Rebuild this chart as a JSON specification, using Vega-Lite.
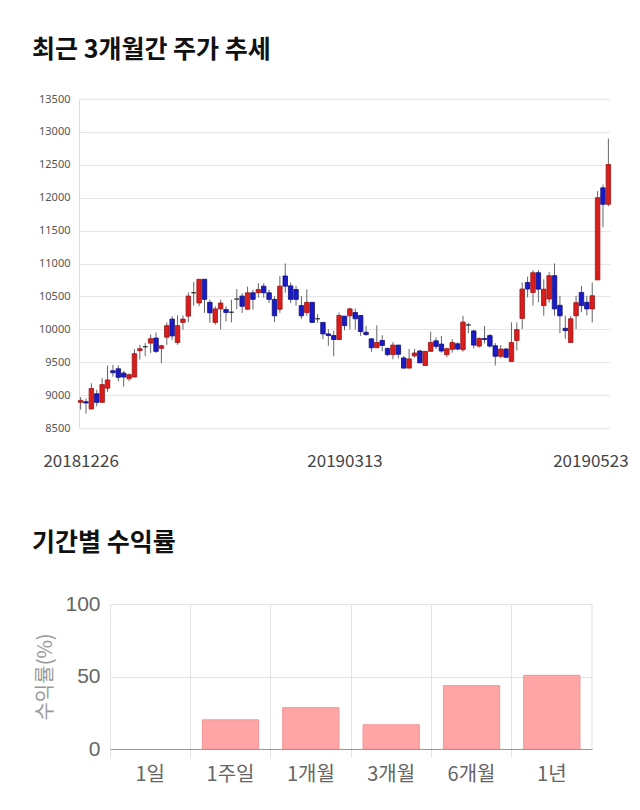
{
  "$schema": "https://vega.github.io/schema/vega-lite/v6.json",
  "padding": {"left": 32, "top": 38, "right": 5, "bottom": 20},
  "background": "white",
  "config": {
    "view": {"stroke": null},
    "font": "Noto Sans CJK KR",
    "title": {"anchor": "start", "frame": "group", "dx": -47, "fontSize": 25, "fontWeight": "bold", "color": "#111", "font": "Noto Sans CJK KR"}
  },
  "spacing": 62,
  "vconcat": [
    {
      "title": {"text": "최근 3개월간 주가 추세", "offset": 30},
      "width": 531,
      "height": 329,
      "data": {"values": [
        {"d":"20181226","o":8890,"h":8970,"l":8780,"c":8920},
        {"d":"20181227","o":8900,"h":8950,"l":8720,"c":8880},
        {"d":"20181228","o":8790,"h":9180,"l":8780,"c":9100},
        {"d":"20190102","o":9020,"h":9080,"l":8830,"c":8890},
        {"d":"20190103","o":8890,"h":9260,"l":8880,"c":9160},
        {"d":"20190104","o":9105,"h":9450,"l":9050,"c":9230},
        {"d":"20190107","o":9370,"h":9460,"l":9280,"c":9340},
        {"d":"20190108","o":9400,"h":9450,"l":9210,"c":9270},
        {"d":"20190109","o":9335,"h":9370,"l":9130,"c":9275},
        {"d":"20190110","o":9250,"h":9330,"l":9210,"c":9310},
        {"d":"20190111","o":9275,"h":9700,"l":9270,"c":9630},
        {"d":"20190114","o":9675,"h":9765,"l":9540,"c":9705},
        {"d":"20190115","o":9735,"h":9790,"l":9590,"c":9735},
        {"d":"20190116","o":9790,"h":9920,"l":9640,"c":9857},
        {"d":"20190117","o":9867,"h":9950,"l":9640,"c":9665},
        {"d":"20190118","o":9710,"h":9765,"l":9485,"c":9750},
        {"d":"20190121","o":9880,"h":10105,"l":9765,"c":10055},
        {"d":"20190122","o":10155,"h":10200,"l":9840,"c":9900},
        {"d":"20190123","o":9800,"h":10210,"l":9765,"c":10055},
        {"d":"20190124","o":10105,"h":10210,"l":9995,"c":10155},
        {"d":"20190125","o":10200,"h":10560,"l":10106,"c":10505},
        {"d":"20190128","o":10555,"h":10720,"l":10360,"c":10555},
        {"d":"20190129","o":10400,"h":10760,"l":10350,"c":10760},
        {"d":"20190130","o":10760,"h":10760,"l":10250,"c":10455},
        {"d":"20190131","o":10410,"h":10450,"l":10100,"c":10250},
        {"d":"20190201","o":10105,"h":10350,"l":10070,"c":10310},
        {"d":"20190207","o":10310,"h":10450,"l":10000,"c":10400},
        {"d":"20190208","o":10300,"h":10350,"l":10120,"c":10255},
        {"d":"20190211","o":10260,"h":10450,"l":10105,"c":10260},
        {"d":"20190212","o":10460,"h":10610,"l":10305,"c":10460},
        {"d":"20190213","o":10505,"h":10550,"l":10250,"c":10350},
        {"d":"20190214","o":10305,"h":10650,"l":10300,"c":10555},
        {"d":"20190215","o":10555,"h":10600,"l":10300,"c":10455},
        {"d":"20190218","o":10555,"h":10700,"l":10480,"c":10605},
        {"d":"20190219","o":10655,"h":10700,"l":10480,"c":10555},
        {"d":"20190220","o":10555,"h":10600,"l":10400,"c":10455},
        {"d":"20190221","o":10455,"h":10500,"l":10110,"c":10205},
        {"d":"20190222","o":10305,"h":10810,"l":10250,"c":10655},
        {"d":"20190225","o":10810,"h":11000,"l":10555,"c":10655},
        {"d":"20190226","o":10660,"h":10710,"l":10400,"c":10455},
        {"d":"20190227","o":10605,"h":10660,"l":10360,"c":10455},
        {"d":"20190228","o":10360,"h":10505,"l":10155,"c":10205},
        {"d":"20190304","o":10255,"h":10605,"l":10205,"c":10410},
        {"d":"20190305","o":10410,"h":10410,"l":10100,"c":10105},
        {"d":"20190306","o":10160,"h":10230,"l":10100,"c":10160},
        {"d":"20190307","o":10105,"h":10105,"l":9850,"c":9930},
        {"d":"20190308","o":9930,"h":10000,"l":9750,"c":9905},
        {"d":"20190311","o":9905,"h":9975,"l":9590,"c":9845},
        {"d":"20190312","o":9845,"h":10255,"l":9845,"c":10210},
        {"d":"20190313","o":10200,"h":10200,"l":9985,"c":10055},
        {"d":"20190314","o":10205,"h":10330,"l":10000,"c":10310},
        {"d":"20190315","o":10255,"h":10315,"l":10000,"c":10160},
        {"d":"20190318","o":10210,"h":10215,"l":9900,"c":9965},
        {"d":"20190319","o":9955,"h":10050,"l":9900,"c":9920},
        {"d":"20190320","o":9855,"h":9860,"l":9655,"c":9720},
        {"d":"20190321","o":9720,"h":10060,"l":9720,"c":9800},
        {"d":"20190322","o":9830,"h":9910,"l":9670,"c":9755},
        {"d":"20190325","o":9710,"h":9720,"l":9595,"c":9615},
        {"d":"20190326","o":9615,"h":9805,"l":9545,"c":9760},
        {"d":"20190327","o":9760,"h":9760,"l":9560,"c":9620},
        {"d":"20190328","o":9565,"h":9595,"l":9410,"c":9410},
        {"d":"20190329","o":9410,"h":9700,"l":9410,"c":9550},
        {"d":"20190401","o":9595,"h":9705,"l":9570,"c":9640},
        {"d":"20190402","o":9670,"h":9690,"l":9490,"c":9490},
        {"d":"20190403","o":9450,"h":9670,"l":9450,"c":9665},
        {"d":"20190404","o":9665,"h":9965,"l":9660,"c":9800},
        {"d":"20190405","o":9825,"h":9875,"l":9700,"c":9740},
        {"d":"20190408","o":9775,"h":9900,"l":9645,"c":9670},
        {"d":"20190409","o":9615,"h":9720,"l":9575,"c":9705},
        {"d":"20190410","o":9695,"h":9850,"l":9645,"c":9800},
        {"d":"20190411","o":9780,"h":9800,"l":9680,"c":9700},
        {"d":"20190412","o":9690,"h":10205,"l":9660,"c":10110},
        {"d":"20190415","o":10065,"h":10100,"l":9940,"c":10065},
        {"d":"20190416","o":9975,"h":9990,"l":9710,"c":9760},
        {"d":"20190417","o":9745,"h":9880,"l":9720,"c":9860},
        {"d":"20190418","o":9860,"h":10050,"l":9785,"c":9845},
        {"d":"20190419","o":9905,"h":9930,"l":9720,"c":9745},
        {"d":"20190422","o":9750,"h":9790,"l":9450,"c":9590},
        {"d":"20190423","o":9590,"h":9760,"l":9560,"c":9700},
        {"d":"20190424","o":9700,"h":9720,"l":9560,"c":9575},
        {"d":"20190425","o":9510,"h":10105,"l":9510,"c":9800},
        {"d":"20190426","o":9830,"h":10105,"l":9680,"c":9995},
        {"d":"20190429","o":10165,"h":10710,"l":10005,"c":10612},
        {"d":"20190430","o":10712,"h":10800,"l":10485,"c":10612},
        {"d":"20190502","o":10560,"h":10900,"l":10360,"c":10860},
        {"d":"20190503","o":10860,"h":10900,"l":10410,"c":10610},
        {"d":"20190507","o":10360,"h":10760,"l":10205,"c":10610},
        {"d":"20190508","o":10460,"h":10870,"l":10405,"c":10815},
        {"d":"20190509","o":10815,"h":11000,"l":10205,"c":10310},
        {"d":"20190510","o":10365,"h":10510,"l":9940,"c":10205},
        {"d":"20190513","o":10015,"h":10205,"l":9855,"c":9980},
        {"d":"20190514","o":9800,"h":10200,"l":9790,"c":10160},
        {"d":"20190515","o":10205,"h":10510,"l":10005,"c":10405},
        {"d":"20190516","o":10560,"h":10660,"l":10260,"c":10360},
        {"d":"20190517","o":10410,"h":10510,"l":10210,"c":10310},
        {"d":"20190520","o":10310,"h":10710,"l":10105,"c":10510},
        {"d":"20190521","o":10750,"h":12100,"l":10750,"c":12000},
        {"d":"20190522","o":12150,"h":12200,"l":11550,"c":11900},
        {"d":"20190523","o":11900,"h":12900,"l":11870,"c":12505}
      ]},
      "encoding": {
        "x": {
          "field": "d", "type": "ordinal", "sort": null,
          "scale": {"type": "point", "padding": 0.3},
          "axis": {
            "title": null, "values": ["20181226", "20190313", "20190523"],
            "labelAngle": 0, "labelFontSize": 17, "labelColor": "#444", "labelFont": "Noto Sans CJK KR",
            "ticks": false, "domain": false, "grid": false, "labelPadding": 25,
            "labelOffset": {"condition": {"test": "datum.value === '20190523'", "value": -18}, "value": 0}
          }
        }
      },
      "layer": [
        {
          "mark": {"type": "rule", "color": "#666", "strokeWidth": 1},
          "encoding": {
            "y": {
              "field": "l", "type": "quantitative",
              "scale": {"domain": [8500, 13500], "nice": false, "zero": false},
              "axis": {
                "title": null, "values": [8500, 9000, 9500, 10000, 10500, 11000, 11500, 12000, 12500, 13000, 13500],
                "format": "d", "labelFontSize": 11, "labelColor": "#555", "labelFont": "Noto Sans",
                "labelOverlap": false,
                "ticks": false, "domain": true, "domainColor": "#dddddd", "gridColor": "#e6e6e6",
                "labelPadding": 9, "minExtent": 47, "maxExtent": 47
              }
            },
            "y2": {"field": "h"}
          }
        },
        {
          "mark": {"type": "bar", "size": 4.5, "strokeWidth": 0.8},
          "encoding": {
            "y": {
              "field": "o", "type": "quantitative",
              "axis": {
                "title": null, "values": [8500, 9000, 9500, 10000, 10500, 11000, 11500, 12000, 12500, 13000, 13500],
                "format": "d", "labelFontSize": 11, "labelColor": "#555", "labelFont": "Noto Sans",
                "labelOverlap": false,
                "ticks": false, "domain": true, "domainColor": "#dddddd", "gridColor": "#e6e6e6",
                "labelPadding": 9, "minExtent": 47, "maxExtent": 47
              }
            },
            "y2": {"field": "c"},
            "color": {
              "condition": [
                {"test": "datum.c > datum.o", "value": "#d91c1c"},
                {"test": "datum.c < datum.o", "value": "#1a1ac6"}
              ],
              "value": "#222222"
            },
            "stroke": {
              "condition": [
                {"test": "datum.c > datum.o", "value": "#9a1515"},
                {"test": "datum.c < datum.o", "value": "#10107a"}
              ],
              "value": "#222222"
            }
          }
        }
      ]
    },
    {
      "title": {"text": "기간별 수익률", "offset": 37},
      "width": 513,
      "height": 145,
      "data": {"values": [
        {"p": "1일", "r": 0},
        {"p": "1주일", "r": 20.1},
        {"p": "1개월", "r": 28.5},
        {"p": "3개월", "r": 16.7},
        {"p": "6개월", "r": 43.7},
        {"p": "1년", "r": 50.8}
      ]},
      "encoding": {
        "x": {
          "field": "p", "type": "nominal", "sort": null,
          "scale": {"paddingInner": 0, "paddingOuter": 0, "range": [31, 513]},
          "axis": {
            "title": null, "labelAngle": 0, "labelFontSize": 20, "labelColor": "#666",
            "bandPosition": 0, "labelAlign": "center", "zindex": 1,
            "tickSize": 8, "tickColor": "#e3e3e3", "grid": true, "gridColor": "#e3e3e3",
            "domainColor": "#999999", "labelPadding": 7
          }
        }
      },
      "layer": [
        {
          "mark": {"type": "bar", "width": {"band": 0.7}, "fill": "#ffa5a5", "stroke": "#f29494", "strokeWidth": 1},
          "encoding": {
            "y": {
              "field": "r", "type": "quantitative",
              "scale": {"domain": [0, 100], "nice": false},
              "axis": {
                "values": [0, 50, 100], "title": "수익률(%)", "titleFontSize": 20, "titleFontWeight": "normal",
                "titleColor": "#999", "titlePadding": 13, "labelFontSize": 21, "labelColor": "#666", "labelFont": "Liberation Sans",
                "domain": false, "ticks": false, "labelPadding": 10, "gridColor": "#e3e3e3",
                "offset": -31, "minExtent": 42, "maxExtent": 42
              }
            },
            "strokeOpacity": {"condition": {"test": "datum.r === 0", "value": 0}, "value": 1}
          }
        },
        {
          "transform": [{"filter": "datum.p === '1년'"}],
          "mark": {"type": "rule", "color": "#e3e3e3", "strokeWidth": 1},
          "encoding": {
            "x": {"field": "p", "type": "nominal", "bandPosition": 1},
            "y": {"datum": 0},
            "y2": {"datum": 100}
          }
        }
      ]
    }
  ]
}
